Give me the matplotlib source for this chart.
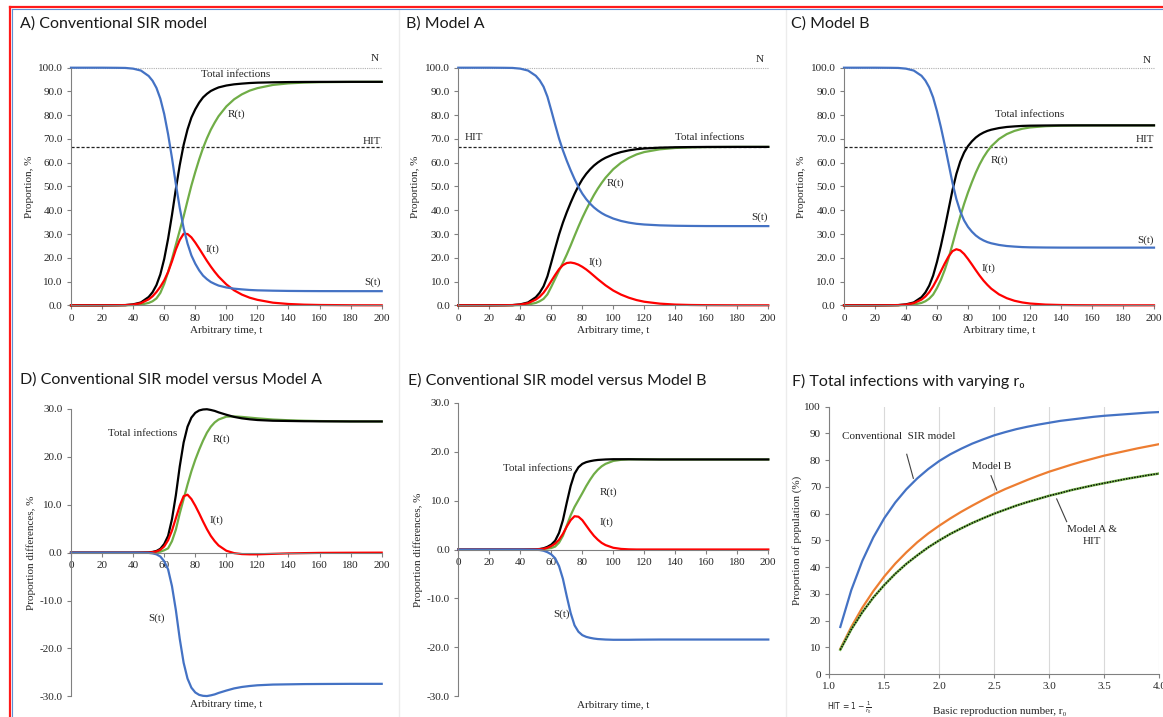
import matplotlib
matplotlib.use("Agg")
import matplotlib.pyplot as plt
from matplotlib.ticker import FuncFormatter, MultipleLocator
from matplotlib.lines import Line2D

# ---------------------------------------------------------------- data
# time points (arbitrary units)
T = [0, 10, 20, 30, 35, 40, 45, 50, 52.5, 55, 57.5, 60, 62.5, 65, 67.5, 70,
     72.5, 75, 77.5, 80, 82.5, 85, 87.5, 90, 92.5, 95, 100, 105, 110, 115,
     120, 130, 140, 150, 160, 180, 200]

# conventional SIR model: total infections (I+R) and infectious I, % of N
conv_total = [0, 0, 0, 0.05, 0.1, 0.4, 1.2, 3.5, 5.5, 8.5, 13, 19.5, 28, 38,
              49, 59, 67.5, 74, 79, 82.5, 85.3, 87.5, 89, 90.2, 91, 91.7,
              92.5, 93, 93.3, 93.55, 93.7, 93.85, 93.95, 94.0, 94.03, 94.05,
              94.05]
conv_inf = [0, 0, 0, 0.04, 0.08, 0.3, 0.9, 2.5, 3.8, 5.6, 7.8, 10.5, 14,
            18.5, 23.5, 27.5, 30.1, 30.0, 28.6, 26.4, 23.9, 21.3, 18.7, 16.3,
            14.1, 12.1, 8.8, 6.3, 4.5, 3.2, 2.3, 1.1, 0.55, 0.27, 0.13, 0.03,
            0.0]

# Model A
a_total = [0, 0, 0, 0.05, 0.1, 0.4, 1.2, 3.4, 5.3, 8.0, 12.2, 18, 24, 29.8,
           34.8, 39.2, 43.2, 46.9, 50.2, 53, 55.3, 57.2, 58.8, 60.1, 61.2,
           62.1, 63.5, 64.5, 65.2, 65.7, 66.0, 66.35, 66.52, 66.6, 66.65,
           66.67, 66.67]
a_inf = [0, 0, 0, 0.04, 0.08, 0.3, 0.9, 2.4, 3.6, 5.3, 7.6, 10.2, 12.8, 15.2,
         16.9, 17.8, 18.0, 17.7, 17.1, 16.2, 15.1, 13.8, 12.4, 11.0, 9.7, 8.4,
         6.2, 4.5, 3.2, 2.2, 1.5, 0.7, 0.3, 0.13, 0.06, 0.01, 0.0]

# Model B
b_total = [0, 0, 0, 0.05, 0.1, 0.4, 1.2, 3.4, 5.4, 8.3, 12.5, 18.3, 25, 32.5,
           40.5, 48.5, 55.3, 60.5, 64.3, 67, 69, 70.6, 71.8, 72.7, 73.4, 73.9,
           74.6, 75.05, 75.3, 75.5, 75.6, 75.68, 75.72, 75.73, 75.73, 75.73,
           75.73]
b_inf = [0, 0, 0, 0.04, 0.08, 0.3, 0.9, 2.4, 3.7, 5.5, 8.0, 11.0, 14.3, 17.6,
         20.6, 22.8, 23.6, 23.1, 21.6, 19.5, 17.2, 14.8, 12.5, 10.4, 8.6, 7.0,
         4.6, 3.0, 1.9, 1.2, 0.75, 0.3, 0.12, 0.05, 0.02, 0.0, 0.0]

# differences, conventional minus Model A
d_total = [0, 0, 0, 0, 0, 0, 0.02, 0.05, 0.15, 0.35, 0.8, 1.8, 3.5, 7.0,
           12.0, 18.0, 23.0, 26.3, 28.2, 29.2, 29.7, 29.9, 29.95, 29.8, 29.6,
           29.3, 28.8, 28.35, 28.05, 27.85, 27.7, 27.55, 27.5, 27.45, 27.43,
           27.4, 27.4]
d_inf = [0, 0, 0, 0, 0, 0, 0.01, 0.03, 0.1, 0.25, 0.6, 1.3, 2.6, 4.6, 7.2,
         9.8, 11.8, 12.1, 11.2, 9.8, 8.2, 6.5, 4.9, 3.5, 2.4, 1.5, 0.4, -0.1,
         -0.3, -0.35, -0.35, -0.25, -0.15, -0.1, -0.05, -0.02, 0]

# differences, conventional minus Model B
e_total = [0, 0, 0, 0, 0, 0, 0.02, 0.05, 0.1, 0.25, 0.55, 1.0, 1.8, 3.4, 6.0,
           9.6, 13.0, 15.5, 16.8, 17.5, 17.85, 18.05, 18.2, 18.3, 18.35, 18.4,
           18.45, 18.45, 18.45, 18.43, 18.42, 18.4, 18.4, 18.4, 18.4, 18.4,
           18.4]
e_inf = [0, 0, 0, 0, 0, 0, 0.01, 0.03, 0.07, 0.15, 0.35, 0.7, 1.2, 2.0, 3.2,
         4.7, 6.0, 6.8, 6.7, 6.0, 4.9, 3.8, 2.8, 2.0, 1.35, 0.9, 0.35, 0.12,
         0.03, 0, 0, 0, 0, 0, 0, 0, 0]

N_LEVEL = 100.0
HIT_LEVEL = 66.7

# total infections against the basic reproduction number
r0 = [1.1, 1.2, 1.3, 1.4, 1.5, 1.6, 1.7, 1.8, 1.9, 2.0, 2.1, 2.2, 2.3, 2.4,
      2.5, 2.6, 2.7, 2.8, 2.9, 3.0, 3.1, 3.2, 3.3, 3.4, 3.5, 3.6, 3.7, 3.8,
      3.9, 4.0]
f_conv = [17.6, 31.4, 42.3, 51.1, 58.3, 64.2, 69.1, 73.2, 76.7, 79.7, 82.2,
          84.3, 86.2, 87.8, 89.3, 90.5, 91.6, 92.5, 93.3, 94.0, 94.7, 95.2,
          95.7, 96.2, 96.6, 96.9, 97.2, 97.5, 97.8, 98.0]
f_model_b = [9.4, 17.6, 24.8, 31.0, 36.5, 41.3, 45.5, 49.3, 52.6, 55.5, 58.2,
             60.7, 63.0, 65.2, 67.3, 69.2, 70.9, 72.6, 74.2, 75.7, 77.0, 78.3,
             79.5, 80.6, 81.7, 82.6, 83.5, 84.4, 85.2, 86.0]
f_model_a = [9.1, 16.7, 23.1, 28.6, 33.3, 37.5, 41.2, 44.4, 47.4, 50.0, 52.4,
             54.5, 56.5, 58.3, 60.0, 61.5, 63.0, 64.3, 65.5, 66.7, 67.7, 68.8,
             69.7, 70.6, 71.4, 72.2, 73.0, 73.7, 74.4, 75.0]

# ---------------------------------------------------------------- style
SERIF = ['Liberation Serif', 'DejaVu Serif']
SANS = ['Lato', 'DejaVu Sans']
plt.rcParams['font.family'] = SERIF
plt.rcParams['axes.linewidth'] = 0.8

C_S = '#4472C4'
C_I = '#FF0000'
C_R = '#70AD47'
C_T = '#000000'
C_ORANGE = '#ED7D31'
C_AXIS = '#808080'
C_TEXT = '#262626'
LW = 1.6

W, H = 1163, 717
fig = plt.figure(figsize=(W / 100, H / 100), dpi=100)
fig.patch.set_facecolor('white')


def px_axes(x0, x1, ytop, ybot):
    return fig.add_axes([x0 / W, 1 - ybot / H, (x1 - x0) / W, (ybot - ytop) / H])


def base_style(ax):
    for side in ('top', 'right'):
        ax.spines[side].set_visible(False)
    for side in ('left', 'bottom'):
        ax.spines[side].set_color(C_AXIS)
        ax.spines[side].set_linewidth(0.8)
    ax.tick_params(direction='out', length=3, width=0.8, color=C_AXIS,
                   labelsize=8, labelcolor=C_TEXT, pad=3)
    ax.set_facecolor('none')


fmt1 = FuncFormatter(lambda v, p: f"{v:.1f}")
fmt0 = FuncFormatter(lambda v, p: f"{v:.0f}")


def title(x, y, s):
    fig.text(x / W, 1 - y / H, s, family=SANS, fontsize=11.5, ha='left',
             va='center', color='#1a1a1a')


def sir_panel(ax, total, infectious, labels, ylabel_x):
    base_style(ax)
    S = [N_LEVEL - v for v in total]
    R = [v - i for v, i in zip(total, infectious)]
    ax.axhline(N_LEVEL, color='#b0b0b0', lw=0.8, ls=(0, (1, 1)), clip_on=False)
    ax.axhline(HIT_LEVEL, color='#222222', lw=0.9, ls=(0, (2.5, 1.5)))
    ax.plot(T, R, color=C_R, lw=LW, clip_on=False)
    ax.plot(T, total, color=C_T, lw=LW, clip_on=False)
    ax.plot(T, infectious, color=C_I, lw=LW, clip_on=False)
    ax.plot(T, S, color=C_S, lw=LW, clip_on=False)
    ax.set_xlim(0, 200)
    ax.set_ylim(0, 100)
    ax.xaxis.set_major_locator(MultipleLocator(20))
    ax.yaxis.set_major_locator(MultipleLocator(10))
    ax.yaxis.set_major_formatter(fmt1)
    ax.text(100, -10.5, 'Arbitrary time, t', ha='center', va='center',
            fontsize=8, color=C_TEXT, clip_on=False)
    ax.text(ylabel_x, 0.5, 'Proportion, %', rotation=90, ha='center',
            va='center', fontsize=8, color=C_TEXT, transform=ax.transAxes)
    for (x, y, s, ha) in labels:
        ax.text(x, y, s, ha=ha, va='center', fontsize=8, color=C_TEXT,
                clip_on=False)


def diff_panel(ax, total, infectious, labels, ylabel_x):
    base_style(ax)
    S = [-v for v in total]
    R = [v - i for v, i in zip(total, infectious)]
    ax.spines['bottom'].set_position(('data', 0))
    ax.plot(T, R, color=C_R, lw=LW, clip_on=False)
    ax.plot(T, total, color=C_T, lw=LW, clip_on=False)
    ax.plot(T, infectious, color=C_I, lw=LW, clip_on=False)
    ax.plot(T, S, color=C_S, lw=LW, clip_on=False)
    ax.set_xlim(0, 200)
    ax.set_ylim(-30, 30)
    ax.xaxis.set_major_locator(MultipleLocator(20))
    ax.yaxis.set_major_locator(MultipleLocator(10))
    ax.yaxis.set_major_formatter(fmt1)
    ax.text(100, -31.8, 'Arbitrary time, t', ha='center', va='center',
            fontsize=8, color=C_TEXT, clip_on=False)
    ax.text(ylabel_x, 0.5, 'Proportion differences, %', rotation=90,
            ha='center', va='center', fontsize=8, color=C_TEXT,
            transform=ax.transAxes)
    for (x, y, s, ha) in labels:
        ax.text(x, y, s, ha=ha, va='center', fontsize=8, color=C_TEXT,
                clip_on=False)


# ---------------------------------------------------------------- panels
ax_a = px_axes(71, 381.7, 67.7, 305.3)
sir_panel(ax_a, conv_total, conv_inf,
          [(195.7, 104, 'N', 'center'), (106, 97, 'Total infections', 'center'),
           (106.7, 80.4, 'R(t)', 'center'), (199.5, 68.8, 'HIT', 'right'),
           (91, 23.7, 'I(t)', 'center'), (199.5, 9.9, 'S(t)', 'right')],
          -0.134)
title(20, 24, 'A) Conventional SIR model')

ax_b = px_axes(458.3, 768.3, 67.7, 305.3)
sir_panel(ax_b, a_total, a_inf,
          [(194.6, 103.4, 'N', 'center'), (4, 70.6, 'HIT', 'left'),
           (162.4, 70.6, 'Total infections', 'center'),
           (101.1, 51.6, 'R(t)', 'center'), (199.5, 37, 'S(t)', 'right'),
           (88.6, 18.1, 'I(t)', 'center')],
          -0.137)
title(406, 24, 'B) Model A')

ax_c = px_axes(844, 1154, 67.7, 305.3)
sir_panel(ax_c, b_total, b_inf,
          [(195.3, 103.1, 'N', 'center'),
           (120, 80.1, 'Total infections', 'center'),
           (200, 69.8, 'HIT', 'right'), (100.6, 61.2, 'R(t)', 'center'),
           (200, 27.2, 'S(t)', 'right'), (93.1, 15.6, 'I(t)', 'center')],
          -0.136)
title(791, 24, 'C) Model B')

ax_d = px_axes(71, 381.7, 409, 696.3)
diff_panel(ax_d, d_total, d_inf,
           [(45.9, 24.8, 'Total infections', 'center'),
            (96.6, 23.7, 'R(t)', 'center'), (93.8, 6.8, 'I(t)', 'center'),
            (55.2, -13.7, 'S(t)', 'center')],
           -0.127)
title(20, 380, 'D) Conventional SIR model versus Model A')

ax_e = px_axes(458.3, 768.3, 402.7, 696.3)
diff_panel(ax_e, e_total, e_inf,
           [(51.2, 16.6, 'Total infections', 'center'),
            (97.2, 11.8, 'R(t)', 'center'), (95.9, 5.5, 'I(t)', 'center'),
            (66.3, -13.2, 'S(t)', 'center')],
           -0.129)
title(408, 381, 'E) Conventional SIR model versus Model B')

# F: final size against r0
ax_f = px_axes(829.3, 1159.3, 406.7, 674)
base_style(ax_f)
ax_f.grid(axis='x', color='#d9d9d9', lw=0.8)
ax_f.set_axisbelow(True)
ax_f.plot(r0, f_conv, color=C_S, lw=LW)
ax_f.plot(r0, f_model_b, color=C_ORANGE, lw=LW)
ax_f.plot(r0, f_model_a, color=C_R, lw=1.8)
ax_f.plot(r0, f_model_a, color='black', lw=1.0, ls=(0, (1, 1)))
ax_f.set_xlim(1.0, 4.0)
ax_f.set_ylim(0, 100)
ax_f.xaxis.set_major_locator(MultipleLocator(0.5))
ax_f.yaxis.set_major_locator(MultipleLocator(10))
ax_f.xaxis.set_major_formatter(fmt1)
ax_f.yaxis.set_major_formatter(fmt0)
ax_f.text(-0.099, 0.5, 'Proportion of population (%)', rotation=90,
          ha='center', va='center', fontsize=8, color=C_TEXT,
          transform=ax_f.transAxes)
ax_f.text(2.55, -14.1, 'Basic reproduction number, r\u2080', ha='center',
          va='center', fontsize=8, color=C_TEXT, clip_on=False,
          family=SERIF)
ax_f.text(0.975, -12.7, r'HIT = $1-\frac{1}{r_0}$', ha='left', va='center',
          fontsize=5.5, color=C_TEXT, family=['DejaVu Sans'], clip_on=False)
ax_f.text(1.627, 88.8, 'Conventional  SIR model', ha='center', va='center',
          fontsize=8, color=C_TEXT)
ax_f.plot([1.704, 1.764], [82.2, 73.2], color='#404040', lw=0.8)
ax_f.text(2.476, 77.8, 'Model B', ha='center', va='center', fontsize=8,
          color=C_TEXT)
ax_f.plot([2.47, 2.522], [74.2, 68.8], color='#404040', lw=0.8)
ax_f.text(3.385, 51.8, 'Model A &\nHIT', ha='center', va='center',
          fontsize=8, color=C_TEXT, linespacing=1.35)
ax_f.plot([3.067, 3.158], [65.5, 57.0], color='#404040', lw=0.8)
fig.text(791.7 / W, 1 - 381 / H, 'F) Total infections with varying r\u2080',
         family=SANS, fontsize=11.5, ha='left', va='center', color='#1a1a1a')

# frame lines
for x in (399, 786):
    fig.add_artist(Line2D([x / W, x / W], [0, 1 - 10 / H], color='#ececec',
                          lw=1.0))
fig.add_artist(Line2D([10 / W, 1], [1 - 7.3 / H] * 2, color='#ff1a1a', lw=1.6))
fig.add_artist(Line2D([12.3 / W, 1], [1 - 9.4 / H] * 2, color='#5b8fd6', lw=0.8))
fig.add_artist(Line2D([10 / W, 10 / W], [0, 1 - 7.3 / H], color='#ff1a1a', lw=1.6))
fig.add_artist(Line2D([12.3 / W, 12.3 / W], [0, 1 - 9.4 / H], color='#5b8fd6',
                      lw=0.8))

fig.savefig('out.png', dpi=100, facecolor='white')
